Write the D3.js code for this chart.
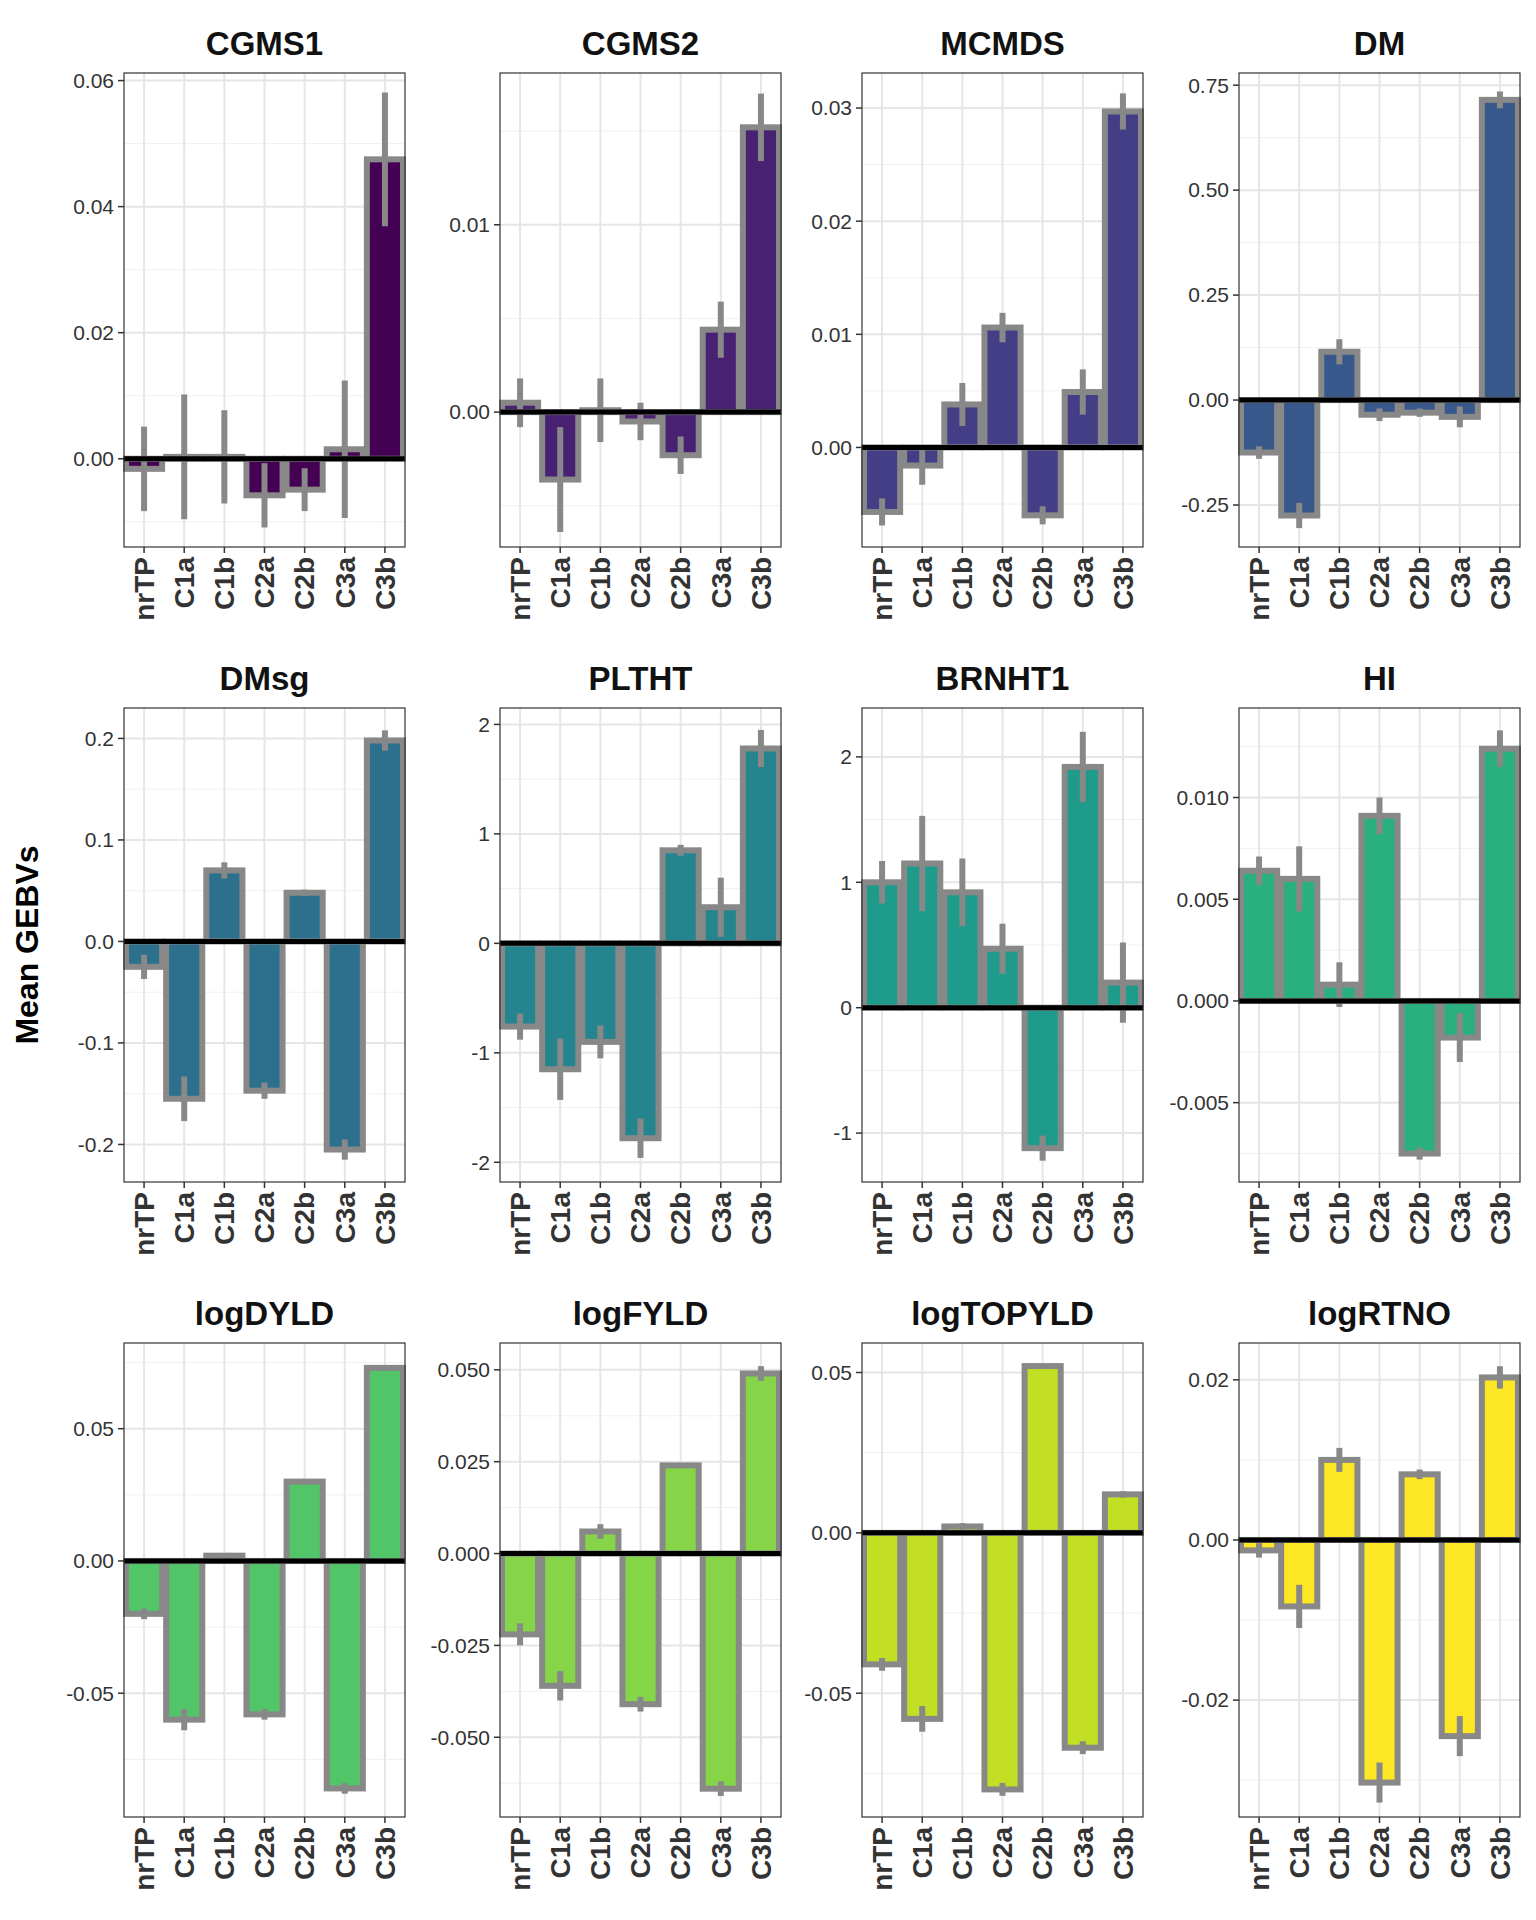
<!DOCTYPE html>
<html><head><meta charset="utf-8">
<script src="https://cdn.jsdelivr.net/npm/d3@7"></script>
<style>body{margin:0;background:#fff}</style></head>
<body><svg id="c" width="1536" height="1920"></svg>
<script>
const categories = ["nrTP","C1a","C1b","C2a","C2b","C3a","C3b"];
const traits = ["CGMS1","CGMS2","MCMDS","DM","DMsg","PLTHT","BRNHT1","HI","logDYLD","logFYLD","logTOPYLD","logRTNO"];
const means = [
 [-0.0016,0.0003,0.0003,-0.0058,-0.0049,0.0015,0.0475],
 [0.0005,-0.0036,0.0001,-0.0005,-0.0023,0.0044,0.0152],
 [-0.0057,-0.0016,0.0038,0.0106,-0.006,0.0049,0.0297],
 [-0.125,-0.275,0.115,-0.035,-0.03,-0.04,0.715],
 [-0.025,-0.155,0.07,-0.147,0.048,-0.205,0.198],
 [-0.76,-1.15,-0.9,-1.78,0.85,0.33,1.78],
 [1.0,1.15,0.92,0.47,-1.12,1.92,0.2],
 [0.0064,0.006,0.0008,0.0091,-0.0075,-0.0018,0.0124],
 [-0.02,-0.06,0.002,-0.058,0.03,-0.086,0.073],
 [-0.022,-0.036,0.006,-0.041,0.024,-0.064,0.049],
 [-0.041,-0.058,0.002,-0.08,0.052,-0.067,0.012],
 [-0.0013,-0.0083,0.01,-0.0303,0.0082,-0.0245,0.0203]
];
const errs = [
 [0.0067,0.0099,0.0074,0.0051,0.0034,0.0109,0.0106],
 [0.0013,0.0028,0.0017,0.001,0.001,0.0015,0.0018],
 [0.0012,0.0017,0.0019,0.0013,0.0008,0.002,0.0016],
 [0.015,0.03,0.03,0.015,0.01,0.025,0.02],
 [0.012,0.022,0.008,0.008,0.003,0.01,0.01],
 [0.12,0.28,0.15,0.18,0.05,0.27,0.17],
 [0.17,0.38,0.27,0.2,0.1,0.28,0.32],
 [0.0007,0.0016,0.0011,0.0009,0.0003,0.0012,0.0009],
 [0.002,0.004,0.001,0.002,0.0005,0.002,0.001],
 [0.003,0.004,0.002,0.002,0.0005,0.002,0.002],
 [0.002,0.004,0.001,0.002,0.0003,0.002,0.001],
 [0.0009,0.0027,0.0015,0.0025,0.0006,0.0025,0.0014]
];
const yDomains = [[-0.014,0.0612],[-0.0072,0.0181],[-0.0088,0.0331],[-0.35,0.779],[-0.237,0.23],[-2.18,2.15],[-1.39,2.39],[-0.0089,0.0144],[-0.0968,0.0824],[-0.0717,0.0573],[-0.0886,0.0592],[-0.0346,0.0246]];
const tickVals = [
 [0,0.02,0.04,0.06],[0,0.01],[0,0.01,0.02,0.03],[-0.25,0,0.25,0.5,0.75],
 [-0.2,-0.1,0,0.1,0.2],[-2,-1,0,1,2],[-1,0,1,2],[-0.005,0,0.005,0.01],
 [-0.05,0,0.05],[-0.05,-0.025,0,0.025,0.05],[-0.05,0,0.05],[-0.02,0,0.02]
];
const tickFmt = [".2f",".2f",".2f",".2f",".1f","d","d",".3f",".2f",".3f",".2f",".2f"];

const svg = d3.select("#c");
const colX = [124,500,862,1239], pw = 281;
const rowY = [73,708,1343], ph = 474;
const FF = "Liberation Sans, Arial";
svg.append("text").attr("transform","translate(38,945) rotate(-90)").attr("text-anchor","middle")
  .attr("font-family",FF).attr("font-weight","bold").attr("font-size",32).text("Mean GEBVs");

traits.forEach((t,i)=>{
  const x0 = colX[i%4], y0 = rowY[Math.floor(i/4)];
  const g = svg.append("g").attr("transform",`translate(${x0},${y0})`);
  const x = d3.scaleBand().domain(categories).range([0,pw]).paddingInner(0.1).paddingOuter(0.05);
  const y = d3.scaleLinear().domain(yDomains[i]).range([ph,0]);
  const tv = tickVals[i];
  const step = tv[1]-tv[0];
  const minor = [];
  for(let v=tv[0]-step/2; v<=yDomains[i][1]; v+=step) if(v>=yDomains[i][0]) minor.push(v);
  g.selectAll(".mn").data(minor).enter().append("line").attr("x1",0).attr("x2",pw)
   .attr("y1",d=>y(d)).attr("y2",d=>y(d)).attr("stroke","#f0f0f0").attr("stroke-width",1);
  g.selectAll(".mj").data(tv).enter().append("line").attr("x1",0).attr("x2",pw)
   .attr("y1",d=>y(d)).attr("y2",d=>y(d)).attr("stroke","#e6e6e6").attr("stroke-width",2);
  g.selectAll(".vg").data(categories).enter().append("line")
   .attr("x1",d=>x(d)+x.bandwidth()/2).attr("x2",d=>x(d)+x.bandwidth()/2)
   .attr("y1",0).attr("y2",ph).attr("stroke","#e6e6e6").attr("stroke-width",2);
  const col = d3.interpolateViridis(i/11);
  const m = means[i], e = errs[i];
  g.selectAll(".bar").data(categories).enter().append("rect")
   .attr("x",d=>x(d)).attr("width",x.bandwidth())
   .attr("y",(d,j)=>Math.min(y(m[j]),y(0))).attr("height",(d,j)=>Math.abs(y(m[j])-y(0)))
   .attr("fill",col).attr("stroke","#888").attr("stroke-width",6);
  g.selectAll(".eb").data(categories).enter().append("line")
   .attr("x1",d=>x(d)+x.bandwidth()/2).attr("x2",d=>x(d)+x.bandwidth()/2)
   .attr("y1",(d,j)=>y(m[j]+e[j])).attr("y2",(d,j)=>y(m[j]-e[j]))
   .attr("stroke","#888").attr("stroke-width",6);
  g.append("line").attr("x1",0).attr("x2",pw).attr("y1",y(0)).attr("y2",y(0)).attr("stroke","#000").attr("stroke-width",5);
  g.append("rect").attr("width",pw).attr("height",ph).attr("fill","none").attr("stroke","#333").attr("stroke-width",1.2);
  const fmt = d3.format(tickFmt[i]);
  tv.forEach(v=>{
    g.append("line").attr("x1",-6).attr("x2",0).attr("y1",y(v)).attr("y2",y(v)).attr("stroke","#333").attr("stroke-width",1.5);
    g.append("text").attr("x",-10).attr("y",y(v)).attr("dy","0.35em").attr("text-anchor","end")
     .attr("font-family",FF).attr("font-size",21).attr("fill","#333").text(fmt(v).replace("\u2212","-"));
  });
  categories.forEach(c=>{
    const cx = x(c)+x.bandwidth()/2;
    g.append("line").attr("x1",cx).attr("x2",cx).attr("y1",ph).attr("y2",ph+6).attr("stroke","#333").attr("stroke-width",1.5);
    g.append("text").attr("transform",`translate(${cx},${ph+10}) rotate(-90)`).attr("dy","0.35em").attr("text-anchor","end")
     .attr("font-family",FF).attr("font-weight","bold").attr("font-size",28).attr("fill","#333").text(c);
  });
  g.append("text").attr("x",pw/2).attr("y",-18).attr("text-anchor","middle")
   .attr("font-family",FF).attr("font-weight","bold").attr("font-size",33).attr("fill","#111").text(t);
});
</script></body></html>
